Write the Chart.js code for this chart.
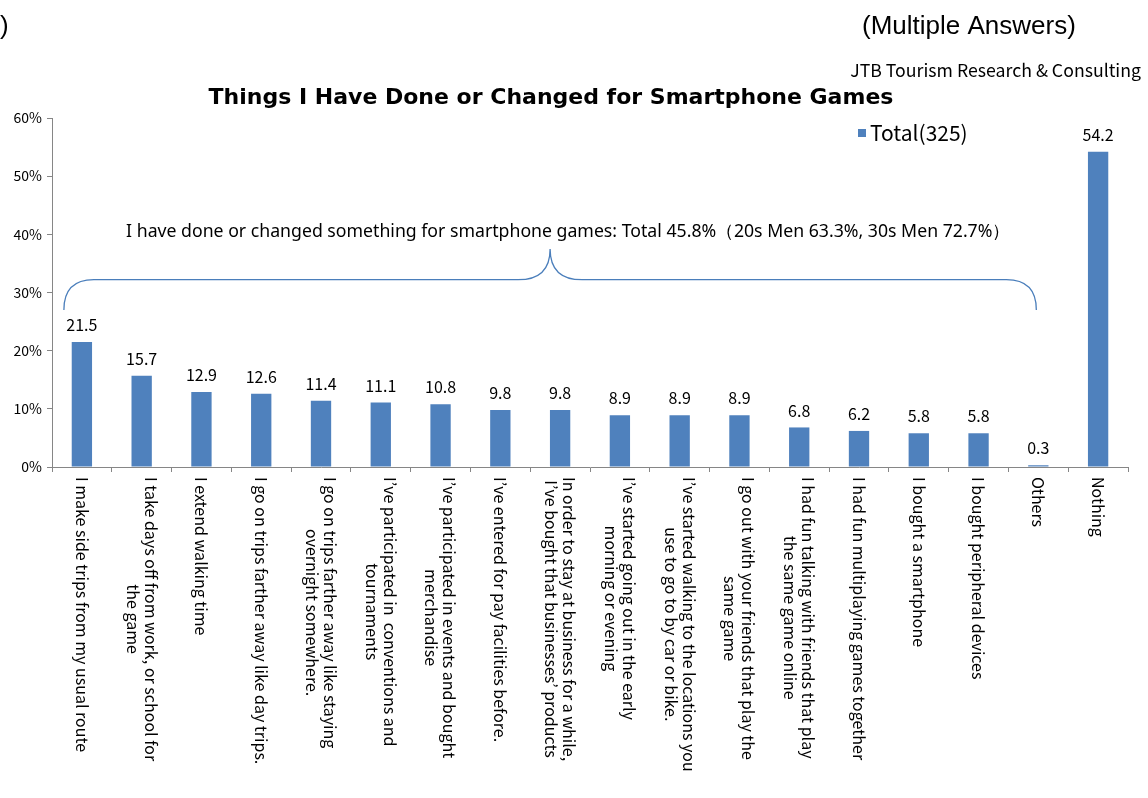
<!DOCTYPE html>
<html>
<head>
<meta charset="utf-8">
<title>Things I Have Done or Changed for Smartphone Games</title>
<script src="https://cdn.jsdelivr.net/npm/chart.js@4.4.1/dist/chart.umd.min.js"></script>
<style>
  html, body { margin: 0; padding: 0; background: #fff; }
  #wrap { position: relative; width: 1148px; height: 798px; overflow: hidden; }
</style>
</head>
<body>
<div id="wrap">
  <canvas id="gamesChart" width="1148" height="798"></canvas>
</div>
<script>
// ---- data ----
const categories = [
  'I make side trips from my usual route',
  ['I take days off from work, or school for', 'the game'],
  'I extend walking time',
  'I go on trips farther away like day trips.',
  ['I go on trips farther away like staying', 'overnight somewhere.'],
  ['I\u2019ve participated in  conventions and', 'tournaments'],
  ['I\u2019ve participated in events and bought', 'merchandise'],
  'I\u2019ve entered for pay facilities before.',
  ['In order to stay at business for a while,', 'I\u2019ve bought that businesses\u2019 products'],
  ['I\u2019ve started going out in the early', 'morning or evening'],
  ['I\u2019ve started walking to the locations you', 'use to go to by car or bike.'],
  ['I go out with your friends that play the', 'same game'],
  ['I had fun talking with friends that play', 'the same game online'],
  'I had fun multiplaying games together',
  'I bought a smartphone',
  'I bought peripheral devices',
  'Others',
  'Nothing'
];
const totalValues = [21.5, 15.7, 12.9, 12.6, 11.4, 11.1, 10.8, 9.8, 9.8, 8.9, 8.9, 8.9, 6.8, 6.2, 5.8, 5.8, 0.3, 54.2];
const seriesLabel = 'Total(325)';
const yTickValues = [0, 10, 20, 30, 40, 50, 60];

const chartTitle = 'Things I Have Done or Changed for Smartphone Games';
const summaryText = 'I have done or changed something for smartphone games: Total 45.8%\uFF0820s Men 63.3%, 30s Men 72.7%\uFF09';

// brace spans the "did something" answers (first to "Others"), levels in % units
const braceFrom = 0;
const braceTo = 16;
const braceEndLevel = 27;
const braceLineLevel = 32.2;
const bracePeakLevel = 37.5;
const summaryLevel = 40.5;

// ---- styles ----
const BAR_BLUE = '#4F81BD';
const BRACE_BLUE = '#4A7EBB';
const AXIS_GREY = '#868686';
const JP_FONT = '"Noto Sans CJK JP", "DejaVu Sans", sans-serif';

// value labels, rotated category labels, brace, legend and header text
const sheetDecor = {
  id: 'sheetDecor',
  afterDraw(chart) {
    const ctx = chart.ctx;
    const x = chart.scales.x;
    const y = chart.scales.y;
    const meta = chart.getDatasetMeta(0);

    ctx.save();
    ctx.fillStyle = '#000';

    // values over bars
    ctx.font = '16px ' + JP_FONT;
    ctx.textAlign = 'center';
    ctx.textBaseline = 'middle';
    meta.data.forEach((bar, i) => {
      ctx.fillText(totalValues[i].toFixed(1), bar.x, bar.y - 17);
    });

    // category labels, turned clockwise, lines centred on each other
    ctx.font = '16px ' + JP_FONT;
    const lineH = 18;
    categories.forEach((label, i) => {
      const lines = Array.isArray(label) ? label : [label];
      const maxW = Math.max(...lines.map(l => ctx.measureText(l).width));
      ctx.save();
      ctx.translate(x.getPixelForValue(i), x.top + 10);
      ctx.rotate(Math.PI / 2);
      lines.forEach((line, j) => {
        ctx.fillText(line, maxW / 2, (j - (lines.length - 1) / 2) * lineH);
      });
      ctx.restore();
    });

    // brace over the answers
    const L = x.getPixelForValue(braceFrom) - 18;
    const R = x.getPixelForValue(braceTo) - 2;
    const M = (L + R) / 2;
    const yEnd = y.getPixelForValue(braceEndLevel);
    const yLine = y.getPixelForValue(braceLineLevel);
    const yPeak = y.getPixelForValue(bracePeakLevel);
    ctx.strokeStyle = BRACE_BLUE;
    ctx.lineWidth = 1.3;
    ctx.beginPath();
    ctx.moveTo(L, yEnd);
    ctx.quadraticCurveTo(L, yLine, L + 30, yLine);
    ctx.lineTo(M - 32, yLine);
    ctx.quadraticCurveTo(M, yLine, M, yPeak);
    ctx.quadraticCurveTo(M, yLine, M + 32, yLine);
    ctx.lineTo(R - 30, yLine);
    ctx.quadraticCurveTo(R, yLine, R, yEnd);
    ctx.stroke();

    ctx.font = '18px "Noto Sans", "Open Sans", sans-serif';
    ctx.fillText(summaryText, M + 18, y.getPixelForValue(summaryLevel), 884);

    // legend
    ctx.fillStyle = BAR_BLUE;
    ctx.fillRect(858, 129, 8, 8);
    ctx.fillStyle = '#000';
    ctx.textAlign = 'left';
    ctx.font = '21px ' + JP_FONT;
    ctx.fillText(seriesLabel, 870, 133);

    // header
    ctx.font = '26px "Liberation Sans", Arial, sans-serif';
    ctx.fillText(')', 0, 27);
    ctx.fillText('(Multiple Answers)', 862, 27);
    ctx.font = '17.7px ' + JP_FONT;
    ctx.textAlign = 'right';
    ctx.fillText('JTB Tourism Research & Consulting', 1141, 70);
    ctx.font = 'bold 22px "DejaVu Sans", sans-serif';
    ctx.textAlign = 'center';
    ctx.fillText(chartTitle, 551, 98);

    ctx.restore();
  }
};

new Chart(document.getElementById('gamesChart'), {
  type: 'bar',
  data: {
    labels: categories,
    datasets: [{
      label: seriesLabel,
      data: totalValues,
      backgroundColor: BAR_BLUE,
      borderWidth: 0,
      categoryPercentage: 1,
      barPercentage: 0.34
    }]
  },
  options: {
    responsive: false,
    animation: false,
    layout: { padding: { top: 118, right: 20, left: 0, bottom: 0 } },
    plugins: {
      legend: { display: false },
      title: { display: false },
      tooltip: { enabled: false }
    },
    scales: {
      x: {
        offset: true,
        grid: { offset: true, drawOnChartArea: false, tickLength: 5, color: AXIS_GREY },
        border: { color: AXIS_GREY },
        ticks: { display: false },
        afterFit(scale) { scale.height = 331; }
      },
      y: {
        min: 0,
        max: 60,
        afterBuildTicks(scale) { scale.ticks = yTickValues.map(v => ({ value: v })); },
        grid: { drawOnChartArea: false, tickLength: 5, color: AXIS_GREY },
        border: { color: AXIS_GREY },
        ticks: {
          padding: 5,
          color: '#000',
          font: { size: 14, family: JP_FONT },
          callback: v => v + '%'
        },
        afterFit(scale) { scale.width = 52; }
      }
    }
  },
  plugins: [sheetDecor]
});
</script>
</body>
</html>
